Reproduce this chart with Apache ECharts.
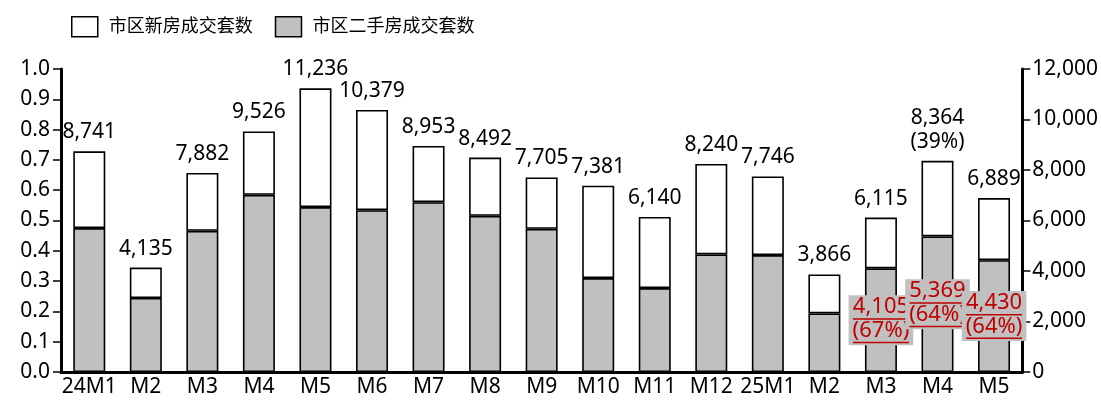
<!DOCTYPE html>
<html lang="zh">
<head>
    <meta charset="UTF-8">
    <title>市区房屋成交套数</title>
    <style>
        *{ margin: 0; }
        html,body{ width: 1101px; height: 401px; background: #fff; }
        #main{ width: 1101px; height: 401px; }
    </style>
    <script src="https://cdn.jsdelivr.net/npm/echarts@6/dist/echarts.min.js"></script>
</head>
<body>
<div id="main"></div>
<script>
    // 月份
    const months = ['24M1','M2','M3','M4','M5','M6','M7','M8','M9','M10','M11','M12','25M1','M2','M3','M4','M5'];
    // 市区二手房成交套数
    const secondHand = [5700,2930,5590,7015,6530,6410,6725,6185,5670,3720,3325,4655,4630,2320,4105,5369,4430];
    // 市区新房成交套数
    const newHouse = [3041,1205,2292,2511,4706,3969,2228,2307,2035,3661,2815,3585,3116,1546,2010,2995,2459];
    // 合计（柱顶标注）
    const totals = [8741,4135,7882,9526,11236,10379,8953,8492,7705,7381,6140,8240,7746,3866,6115,8364,6889];
    // 柱顶占比备注
    const totalNotes = ['','','','','','','','','','','','','','','','39%',''];
    // 二手房占比（红色标注）
    const secondNotes = ['','','','','','','','','','','','','','','67%','64%','64%'];
    // 左轴刻度 0.0 - 1.0，右轴 0 - 12,000
    const leftTicks = {min: 0, max: 1, interval: 0.1};
    const rightTicks = {min: 0, max: 12000, interval: 2000};

    const fontFamily = '"Noto Sans", "Noto Sans CJK SC", sans-serif';
    const fmt = v => v.toLocaleString('en-US');

    const chart = echarts.init(document.getElementById('main'), null, {renderer: 'canvas'});

    // 二手房数据，末尾几个月带红色下划线标注
    const secondData = secondHand.map((v, i) => {
        if (!secondNotes[i]) return v;
        return {
            value: v,
            label: {
                show: true,
                position: 'inside',
                formatter: '{t|' + fmt(v) + '}\n{u|}\n{t|(' + secondNotes[i] + ')}\n{u|}',
                backgroundColor: '#c0c0c0',
                padding: [1, 4, 2, 4],
                rich: {
                    t: {color: '#c00000', fontSize: 22, lineHeight: 22, fontFamily: fontFamily, align: 'center'},
                    u: {height: 1.5, width: 56, backgroundColor: '#c00000', align: 'center'}
                }
            }
        };
    });

    const option = {
        animation: false,
        textStyle: {fontFamily: fontFamily, color: '#000'},
        legend: {
            left: 66,
            top: 11,
            icon: 'rect',
            itemWidth: 26,
            itemHeight: 20,
            itemGap: 22,
            textStyle: {fontSize: 18, color: '#000', fontFamily: fontFamily, padding: [0, 0, 0, 6]},
            data: [
                {name: '市区新房成交套数', itemStyle: {color: '#fff', borderColor: '#000', borderWidth: 1.5}},
                {name: '市区二手房成交套数', itemStyle: {color: '#c0c0c0', borderColor: '#000', borderWidth: 1.5}}
            ]
        },
        grid: {left: 61, right: 73, top: 69, bottom: 29},
        xAxis: {
            type: 'category',
            data: months,
            axisLine: {lineStyle: {color: '#000', width: 3}},
            axisTick: {show: false},
            axisLabel: {fontSize: 21, color: '#000', margin: 5, interval: 0}
        },
        yAxis: [
            {
                type: 'value',
                position: 'left',
                min: leftTicks.min,
                max: leftTicks.max,
                interval: leftTicks.interval,
                splitLine: {show: false},
                axisLine: {show: true, lineStyle: {color: '#000', width: 3}},
                axisTick: {show: true, length: 8, lineStyle: {color: '#000', width: 1.5}},
                axisLabel: {fontSize: 21, color: '#000', margin: 11, formatter: v => v.toFixed(1)}
            },
            {
                type: 'value',
                position: 'right',
                min: rightTicks.min,
                max: rightTicks.max,
                interval: rightTicks.interval,
                splitLine: {show: false},
                axisLine: {show: true, lineStyle: {color: '#000', width: 3}},
                axisTick: {show: true, length: 8, lineStyle: {color: '#000', width: 1.5}},
                axisLabel: {fontSize: 21, color: '#000', margin: 10, formatter: v => fmt(v)}
            }
        ],
        series: [
            {
                name: '市区二手房成交套数',
                type: 'bar',
                stack: 'total',
                yAxisIndex: 1,
                barWidth: 32,
                itemStyle: {color: '#c0c0c0', borderColor: '#000', borderWidth: 1.6},
                label: {show: false},
                data: secondData
            },
            {
                name: '市区新房成交套数',
                type: 'bar',
                stack: 'total',
                yAxisIndex: 1,
                barWidth: 32,
                itemStyle: {color: '#fff', borderColor: '#000', borderWidth: 1.6},
                label: {
                    show: true,
                    position: 'top',
                    distance: 7,
                    fontSize: 21,
                    lineHeight: 24,
                    color: '#000',
                    fontFamily: fontFamily,
                    formatter: p => fmt(totals[p.dataIndex]) + (totalNotes[p.dataIndex] ? '\n(' + totalNotes[p.dataIndex] + ')' : '')
                },
                data: newHouse
            }
        ]
    };

    chart.setOption(option);
    window.onresize = chart.resize;
</script>
</body>
</html>
